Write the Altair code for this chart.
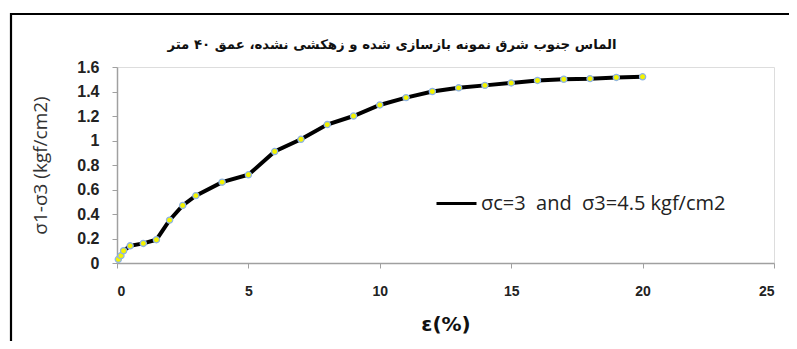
import altair as alt
import pandas as pd

strain = [0.05, 0.15, 0.25, 0.5, 1.0, 1.5, 2.0, 2.5, 3.0, 4.0, 5.0, 6.0, 7.0, 8.0, 9.0,
          10.0, 11.0, 12.0, 13.0, 14.0, 15.0, 16.0, 17.0, 18.0, 19.0, 20.0]
stress = [0.03, 0.06, 0.10, 0.14, 0.16, 0.19, 0.35, 0.47, 0.55, 0.66, 0.72, 0.91, 1.01, 1.13, 1.20,
          1.29, 1.35, 1.40, 1.43, 1.45, 1.47, 1.49, 1.50, 1.505, 1.515, 1.52]
series_name = "σc=3\u00a0 and\u00a0 σ3=4.5 kgf/cm2"
title_text = "الماس جنوب شرق نمونه بازسازی شده و زهکشی نشده، عمق ۴۰ متر"
x_ticks = [0, 5, 10, 15, 20, 25]
y_ticks = [0, 0.2, 0.4, 0.6, 0.8, 1.0, 1.2, 1.4, 1.6]

df = pd.DataFrame({"strain": strain, "stress": stress, "series": [series_name] * len(strain)})

xenc = alt.X("strain:Q", scale=alt.Scale(domain=[0, 25], nice=False),
             axis=alt.Axis(values=x_ticks, title="ε(%)", grid=False, labelOverlap=False,
                           domainColor="#a0a0a0", domainWidth=1.5, tickColor="#a0a0a0",
                           tickSize=5, labelPadding=16, labelFontSize=14, labelFontWeight="bold",
                           labelColor="#222222", titleFontSize=20, titleFontWeight="bold",
                           titleColor="#111111", titlePadding=16, titleFont="DejaVu Sans",
                           labelFont="Liberation Sans"))
yenc = alt.Y("stress:Q", scale=alt.Scale(domain=[0, 1.6], nice=False),
             axis=alt.Axis(values=y_ticks, format="~g", title="σ1-σ3 (kgf/cm2)", grid=False,
                           labelOverlap=False, tickCount=9,
                           domainColor="#a0a0a0", domainWidth=1.5, tickColor="#a0a0a0",
                           tickSize=5, labelPadding=13, labelFontSize=16, labelFontWeight="bold",
                           labelColor="#222222", titleFontSize=19, titleFontWeight="normal",
                           titleColor="#333333", titlePadding=26, titleFont="Open Sans",
                           labelFont="Liberation Sans"))

line = alt.Chart(df).mark_line(color="black", strokeWidth=4).encode(
    x=xenc, y=yenc,
    color=alt.Color("series:N", scale=alt.Scale(range=["black"]),
                    legend=alt.Legend(title=None, orient="none", legendX=318, legendY=115,
                                      symbolType="stroke", symbolStrokeWidth=3,
                                      symbolSize=1600, labelFontSize=20, labelLimit=0,
                                      labelFont="Open Sans", labelColor="#222222",
                                      labelOffset=3)),
)
points = alt.Chart(df).mark_point(filled=True, fill="#f4f400", stroke="#8fb4e3",
                                  strokeWidth=1.3, size=38, opacity=1, shape="circle").encode(
    x=xenc, y=yenc
)
deco = alt.Chart(alt.Data(values=[{"t": title_text}]))
border = deco.mark_rect(filled=False, stroke="black", strokeWidth=2.2).encode(
    x=alt.value(-106), x2=alt.value(720), y=alt.value(-53), y2=alt.value(320)
)
title = deco.mark_text(font="DejaVu Sans", fontSize=13.3, fontWeight="bold", color="#111111",
                       align="center", baseline="middle").encode(
    text="t:N", x=alt.value(275), y=alt.value(-22)
)

chart = alt.layer(border, title, line, points).properties(
    width=657, height=196,
    autosize=alt.AutoSizeParams(type="none"),
    padding={"left": 109, "top": 59, "right": 15, "bottom": 78},
).configure_view(stroke=None).configure(background="white")

chart.save("out.html", embed_options={"renderer": "svg", "actions": False})
